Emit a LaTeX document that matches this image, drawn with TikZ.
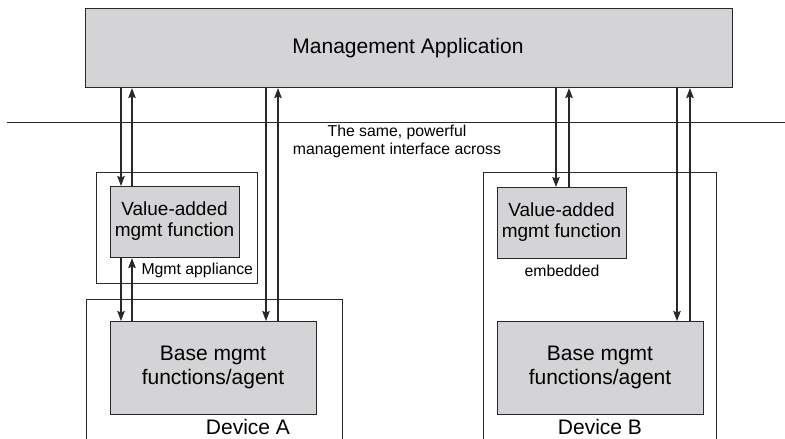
\documentclass[tikz,border=0pt]{standalone}
\usepackage{fontspec}
\setmainfont{Liberation Sans}
\usetikzlibrary{arrows.meta,calc}
\definecolor{boxfill}{RGB}{212,212,214}
\definecolor{ink}{RGB}{40,40,40}
\tikzset{
  x=1pt,y=-1pt,
  graybox/.style={draw=ink,line width=1.1pt,fill=boxfill,inner sep=0pt,anchor=north west,align=center},
  frame/.style={draw=ink,line width=1pt},
  arr/.style={draw=ink,line width=1.1pt,-{Stealth[length=10pt,width=7.5pt,inset=1.5pt]}},
  big/.style={font=\fontsize{21}{25}\selectfont,align=center},
  mid/.style={font=\fontsize{19}{23}\selectfont,align=center},
  small/.style={font=\fontsize{15.8}{20}\selectfont,align=center},
}
\begin{document}
\begin{tikzpicture}
\useasboundingbox (0,0) rectangle (785,439);
% frames
\draw[frame] (96,172) rectangle (257,283);
\draw[frame] (86,439) -- (86,299) -- (342,299) -- (342,439);
\draw[frame] (483,439) -- (483,172) -- (716,172) -- (716,439);
\draw[frame] (7,122) -- (785,122);
% boxes
\node[graybox,minimum width=647pt,minimum height=79pt] (app) at (85,8) {};
\node[big] (apptxt) at (408,48) {Management Application};
\node[graybox,minimum width=129pt,minimum height=71pt] (vaA) at (110,186) {};
\node[mid] (vaAtxt) at (174.5,221.5) {Value-added\\[-2pt]mgmt function};
\node[graybox,minimum width=206pt,minimum height=93pt] (baseA) at (110,321) {};
\node[big] (baseAtxt) at (213,367.5) {Base mgmt\\[-1pt]functions/agent};
\node[graybox,minimum width=129pt,minimum height=71pt] (vaB) at (497,187) {};
\node[mid] (vaBtxt) at (561.5,222.5) {Value-added\\[-2pt]mgmt function};
\node[graybox,minimum width=206pt,minimum height=93pt] (baseB) at (497,321) {};
\node[big] (baseBtxt) at (600,367.5) {Base mgmt\\[-1pt]functions/agent};
% labels
\node[small] (iface) at (397,141.5) {The same, powerful\\[-2pt]management interface across};
\node[small,anchor=west] (appl) at (138,270) {Mgmt appliance};
\node[small] (emb) at (562,271) {embedded};
\node[big] (devA) at (248,427) {Device A};
\node[big] (devB) at (600,427) {Device B};
% arrows left
\draw[arr] (121,0 |- app.south) -- (121,0 |- vaA.north);
\draw[arr] (132,0 |- vaA.north) -- (132,0 |- app.south);
\draw[arr] (121,0 |- vaA.south) -- (121,0 |- baseA.north);
\draw[arr] (132,0 |- baseA.north) -- (132,0 |- vaA.south);
\draw[arr] (266,0 |- app.south) -- (266,0 |- baseA.north);
\draw[arr] (278,0 |- baseA.north) -- (278,0 |- app.south);
% arrows right
\draw[arr] (556,0 |- app.south) -- (556,0 |- vaB.north);
\draw[arr] (569,0 |- vaB.north) -- (569,0 |- app.south);
\draw[arr] (677,0 |- app.south) -- (677,0 |- baseB.north);
\draw[arr] (690,0 |- baseB.north) -- (690,0 |- app.south);
\end{tikzpicture}
\end{document}
